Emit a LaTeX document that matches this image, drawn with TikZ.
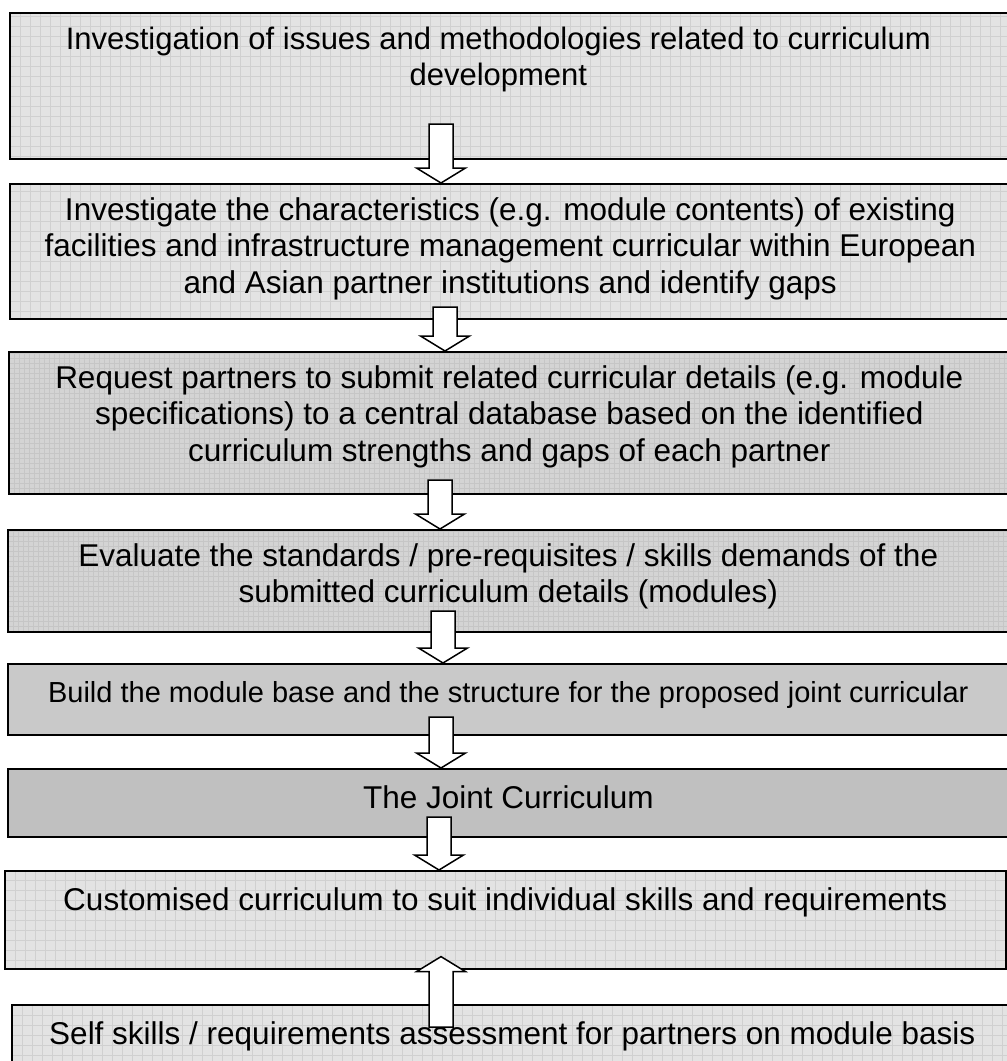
\documentclass[tikz,border=0pt]{standalone}
\usepackage{fontspec}
\setmainfont{Liberation Sans}
\usetikzlibrary{positioning,calc}

\definecolor{boxlight}{HTML}{E3E3E3}
\definecolor{boxgrid}{HTML}{D0D0D0}
\definecolor{boxmid}{HTML}{D4D4D4}
\definecolor{boxmidgrid}{HTML}{C6C6C6}
\definecolor{boxdot}{HTML}{C9C9C9}
\definecolor{boxsolid}{HTML}{C0C0C0}

\tikzset{
  box/.style={draw=black, line width=1.6pt, anchor=north west, inner sep=0pt, minimum width=1001pt},
  coarsegrid/.style={path picture={\draw[boxgrid, line width=0.6pt] (path picture bounding box.south west) grid[step=10pt] (path picture bounding box.north east);}},
  finegrid/.style={path picture={\draw[boxmidgrid, line width=0.5pt] (path picture bounding box.south west) grid[step=5pt] (path picture bounding box.north east);}},
  lightbox/.style={box, fill=boxlight, coarsegrid},
  midbox/.style={box, fill=boxmid, finegrid},
  dotbox/.style={box, fill=boxdot},
  solidbox/.style={box, fill=boxsolid},
  boxtext/.style={font=\fontsize{31.5}{36.2}\selectfont, align=center, inner sep=0pt, execute at begin node=\strut},
  blockarrow/.style={draw=black, fill=white, line width=1.5pt, line join=miter},
}

% hollow block arrow from shaft end #1 to tip #2
\newcommand\blockarrow[2]{%
  \coordinate (hb) at ($(#2)!15pt!(#1)$);
  \draw[blockarrow] ($(#1)!12pt!90:(#2)$) -- ($(hb)!12pt!-90:(#1)$) --
    ($(hb)!24.5pt!-90:(#1)$) -- (#2) -- ($(hb)!24.5pt!90:(#1)$) --
    ($(hb)!12pt!90:(#1)$) -- ($(#1)!12pt!-90:(#2)$) -- cycle;}

\begin{document}
\begin{tikzpicture}[x=1pt, y=-1pt]

\useasboundingbox (0,0) rectangle (1007,1061);
\clip (0,0) rectangle (1007,1061);

\def\ax{441}

% boxes
\node[lightbox, minimum height=146pt] (b1) at (9,12) {};
\node[lightbox, minimum height=135pt] (b2) at (9,183) {};
\node[midbox, minimum height=142pt] (b3) at (8,351) {};
\node[midbox, minimum height=102pt] (b4) at (7,529) {};
\node[dotbox, minimum height=71pt] (b5) at (7,663) {};
\node[solidbox, minimum height=68pt] (b6) at (7,768) {};
\node[lightbox, minimum height=98pt] (b7) at (4,870) {};
\node[lightbox, minimum height=80pt] (b8) at (11,1004) {};

% arrows
\coordinate (a1) at (\ax,124);
\coordinate (a2) at (445,307);
\coordinate (a3) at (440,480);
\coordinate (a4) at (443,611);
\coordinate (a5) at (\ax,717);
\coordinate (a6) at (439,817);
\coordinate (a7) at (\ax,1027);

\coordinate (t1) at (b2.north -| a1);
\coordinate (t2) at (b3.north -| a2);
\coordinate (t3) at (b4.north -| a3);
\coordinate (t4) at (b5.north -| a4);
\coordinate (t5) at (b6.north -| a5);
\coordinate (t6) at (b7.north -| a6);
\coordinate (t7) at ($(b7.south -| a7)+(0,-13)$);

\blockarrow{a1}{t1}
\blockarrow{a2}{t2}
\blockarrow{a3}{t3}
\blockarrow{a4}{t4}
\blockarrow{a5}{t5}
\blockarrow{a6}{t6}
\blockarrow{a7}{t7}

% texts
\node[boxtext, font=\fontsize{31}{36}\selectfont, below=14.8pt of b1.north, xshift=-12pt] (l1) {Investigation of issues and methodologies related to curriculum\\development};
\node[boxtext, below=14.7pt of b2.north] (l2) {Investigate the characteristics (e.g. module contents) of existing\\facilities and infrastructure management curricular within European\\and Asian partner institutions and identify gaps};
\node[boxtext, below=14.7pt of b3.north] (l3) {Request partners to submit related curricular details (e.g. module\\specifications) to a central database based on the identified\\curriculum strengths and gaps of each partner};
\node[boxtext, below=14.7pt of b4.north] (l4) {Evaluate the standards / pre-requisites / skills demands of the\\submitted curriculum details (modules)};
\node[boxtext, font=\fontsize{29}{33.4}\selectfont, below=15.6pt of b5.north] (l5) {Build the module base and the structure for the proposed joint curricular};
\node[boxtext, below=14.7pt of b6.north] (l6) {The Joint Curriculum};
\node[boxtext, below=14.7pt of b7.north] (l7) {Customised curriculum to suit individual skills and requirements};
\node[boxtext, below=14.7pt of b8.north] (l8) {Self skills / requirements assessment for partners on module basis};

\end{tikzpicture}
\end{document}
